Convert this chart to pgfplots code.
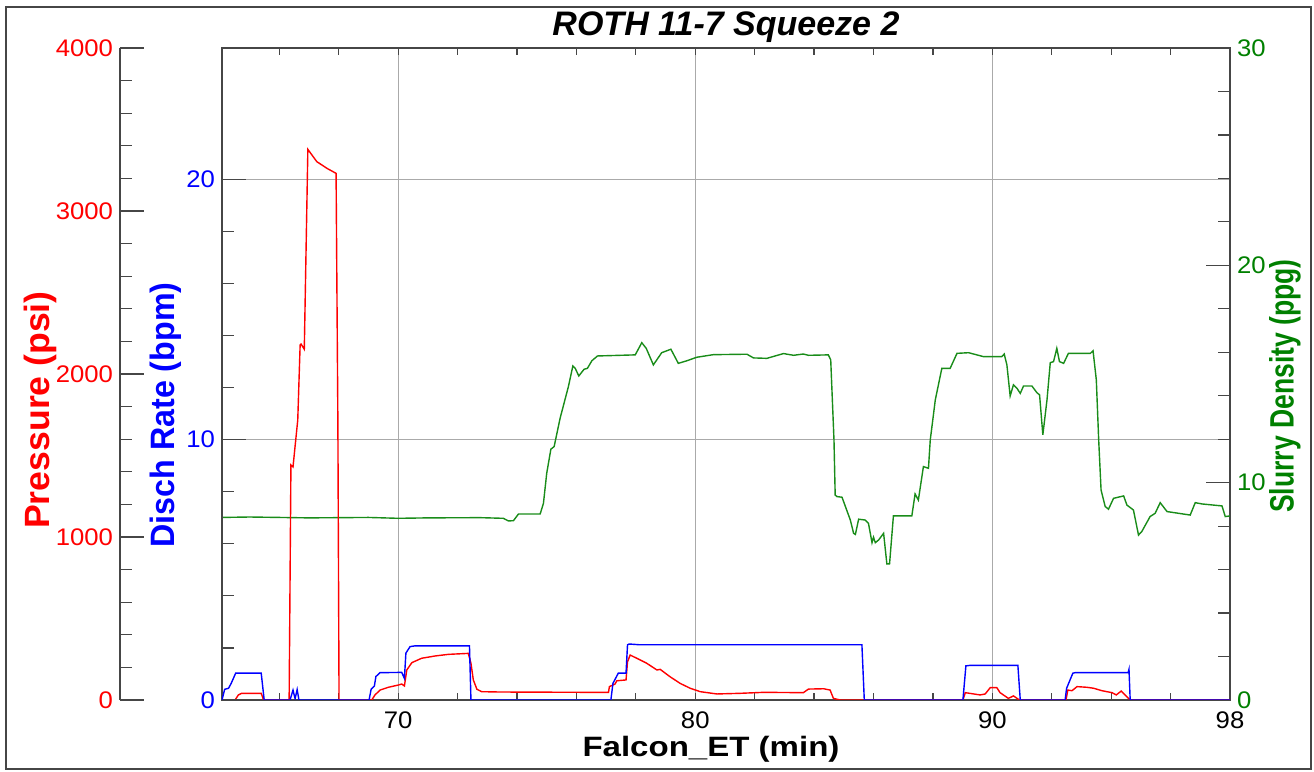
\documentclass[border=0pt]{standalone}
\usepackage{pgfplots}
\usepackage{pgfplotstable}
\pgfplotsset{compat=1.18}
\usepackage{fontspec}
\setmainfont{Liberation Sans}
\definecolor{pred}{RGB}{255,0,0}
\definecolor{rblue}{RGB}{0,0,255}
\definecolor{dgreen}{RGB}{0,128,0}
\definecolor{tgreen}{RGB}{25,140,25}
\definecolor{axgray}{RGB}{70,70,70}
\definecolor{gridgray}{RGB}{170,170,170}

\pgfplotstableread{
x y
64.07 0
64.16 0.41
64.29 0.45
64.38 0.64
64.53 1.03
65.39 1.03
65.49 0
66.36 0
66.46 0.38
66.53 0.05
66.60 0.40
66.66 0
69.02 0
69.09 0.41
69.20 0.54
69.25 0.90
69.39 1.05
70.12 1.06
70.21 0.83
70.26 1.80
70.40 2.05
70.57 2.08
72.40 2.08
72.45 0
77.16 0
77.23 0.64
77.41 1.03
77.67 1.03
77.72 2.12
77.78 2.15
78.14 2.12
85.61 2.12
85.69 0
89.01 0
89.11 1.31
89.25 1.33
90.86 1.33
90.94 0
92.45 0
92.50 0.45
92.71 1.03
92.79 1.05
94.57 1.05
94.60 1.18
94.64 0
98.00 0
}\ratetable

\pgfplotstableread{
x y
64.07 0
64.51 0
64.62 31
64.73 41
65.39 41
65.47 0
66.33 0
66.39 1442
66.46 1430
66.62 1718
66.70 2178
66.73 2184
66.84 2152
66.96 3378
67.26 3303
67.60 3262
67.91 3231
67.97 1718
68.01 0
69.11 0
69.22 31
69.39 61
69.67 78
70.01 92
70.12 98
70.21 86
70.29 184
70.46 229
70.79 256
71.24 270
71.69 280
72.36 286
72.45 225
72.53 123
72.65 66
72.81 51
73.43 49
76.46 47
77.08 47
77.11 82
77.30 98
77.36 118
77.67 123
77.72 235
77.81 276
78.03 256
78.37 225
78.71 184
78.82 188
79.15 143
79.49 102
79.83 72
80.17 51
80.73 37
81.51 41
82.30 47
83.64 45
83.81 67
84.32 69
84.54 61
84.65 10
84.88 0
89.01 0
89.09 45
89.59 31
89.76 37
89.93 76
90.15 76
90.26 45
90.54 10
90.71 25
90.88 4
90.94 0
92.48 0
92.54 61
92.68 57
92.85 82
93.18 78
93.41 72
93.69 57
94.03 45
94.17 31
94.34 55
94.47 31
94.64 0
98.00 0
}\prestable

\pgfplotstableread{
x y
64.07 8.40
65.00 8.42
67.00 8.38
69.00 8.40
70.00 8.36
71.00 8.38
72.76 8.39
73.54 8.36
73.71 8.24
73.88 8.25
74.05 8.56
74.78 8.56
74.89 9.05
75.00 10.43
75.14 11.54
75.25 11.66
75.45 12.96
75.73 14.42
75.88 15.37
75.96 15.26
76.08 14.91
76.26 15.22
76.37 15.26
76.52 15.61
76.71 15.83
77.98 15.88
78.20 16.44
78.35 16.18
78.59 15.42
78.87 15.98
79.18 16.14
79.43 15.49
79.72 15.61
80.05 15.77
80.61 15.89
81.74 15.91
81.96 15.74
82.41 15.72
82.97 15.94
83.31 15.86
83.64 15.92
83.81 15.86
84.48 15.88
84.56 15.65
84.67 11.96
84.71 9.43
84.77 9.36
84.94 9.33
85.22 8.28
85.33 7.67
85.39 7.62
85.50 8.32
85.72 8.28
85.83 8.13
85.95 7.24
86.00 7.49
86.06 7.24
86.17 7.36
86.34 7.67
86.45 6.26
86.54 6.26
86.67 8.47
87.29 8.47
87.40 9.48
87.51 9.20
87.68 10.74
87.85 10.66
87.91 11.96
88.08 13.81
88.30 15.26
88.58 15.26
88.81 15.95
89.20 15.98
89.70 15.80
90.32 15.80
90.40 15.92
90.49 15.42
90.60 13.99
90.71 14.50
90.83 14.34
90.94 14.11
91.05 14.45
91.33 14.45
91.50 14.14
91.59 14.04
91.70 12.20
91.84 13.81
91.95 15.52
92.06 15.57
92.17 16.18
92.26 15.57
92.40 15.49
92.56 15.95
93.30 15.95
93.39 16.07
93.50 14.73
93.58 11.96
93.66 9.66
93.80 8.90
93.91 8.78
94.08 9.28
94.42 9.39
94.53 8.97
94.75 8.74
94.92 7.59
95.03 7.75
95.31 8.44
95.48 8.59
95.65 9.08
95.88 8.67
96.66 8.51
96.83 9.08
97.06 9.02
97.73 8.93
97.84 8.44
98.00 8.47
}\denstable

\pgfplotsset{
  base/.style={
    scale only axis, width=504pt, height=326pt,
    xmin=64.07, xmax=98,
    axis line style={axgray, line width=0.7pt},
    tick style={axgray, line width=0.6pt},
    major tick length=12pt, minor tick length=6pt,
    tick align=inside,
    /pgf/number format/assume math mode=true,
    /pgf/number format/set thousands separator={},
    scaled ticks=false,
    ticklabel style={font=\fontsize{12}{14}\selectfont},
    yticklabel={\scalebox{1.07}[1]{\pgfmathprintnumber{\tick}}},
    xticklabel={\scalebox{1.07}[1]{\pgfmathprintnumber{\tick}}},
    clip=true,
  }
}

\begin{document}
\begin{tikzpicture}
\path[use as bounding box] (0,0) rectangle (657pt,386pt);
\draw[axgray, line width=0.8pt] (3pt,1.5pt) rectangle (655.5pt,382.5pt);

% grid and x axis
\begin{axis}[base, at={(111pt,36pt)}, anchor=south west,
  ymin=0, ymax=25.04,
  xtick={70,80,90,98}, minor xtick={66,68,72,74,76,78,82,84,86,88,92,94,96},
  xtick pos=both,
  ytick={10,20}, yticklabels={}, ytick style={draw=none},
  major tick length=3.5pt, minor tick length=3.5pt,
  grid=major, major grid style={gridgray, line width=0.5pt},
  xticklabel style={black, yshift=-2.5pt},
]
\addplot[draw=none] coordinates {(70,0)};
\end{axis}

% density (green)
\begin{axis}[base, at={(111pt,36pt)}, anchor=south west,
  ymin=0, ymax=30,
  axis x line=none, axis y line*=right,
  ytick={0,10,20,30}, minor y tick num=4,
  yticklabel style={dgreen},
]
\addplot[tgreen, line width=0.7pt] table {\denstable};
\end{axis}

% pressure (red) data
\begin{axis}[base, at={(111pt,36pt)}, anchor=south west,
  ymin=0, ymax=4000, hide axis,
]
\addplot[pred, line width=0.7pt] table {\prestable};
\end{axis}

% rate (blue)
\begin{axis}[base, at={(111pt,36pt)}, anchor=south west,
  ymin=0, ymax=25.04,
  axis x line=none, axis y line*=left,
  ytick={0,10,20}, minor y tick num=4,
  yticklabel style={rblue},
]
\addplot[rblue, line width=0.7pt] table {\ratetable};
\end{axis}

% pressure scale
\begin{axis}[base, at={(60pt,36pt)}, anchor=south west,
  ymin=0, ymax=4000,
  axis x line=none, axis y line*=left,
  ytick={0,1000,2000,3000,4000}, minor y tick num=4,
  yticklabel style={pred},
]
\addplot[draw=none] coordinates {(70,0)};
\end{axis}

\node[font=\bfseries\itshape\fontsize{17}{20}\selectfont] at (363pt,372.5pt) {ROTH 11-7 Squeeze 2};
\node[font=\bfseries\fontsize{14}{16}\selectfont] at (355.5pt,11.5pt) {\scalebox{1.18}[1]{Falcon\_ET (min)}};
\node[font=\bfseries\fontsize{13}{15}\selectfont, text=pred, rotate=90] at (20pt,181pt) {\scalebox{1.37}[1.35]{Pressure (psi)}};
\node[font=\bfseries\fontsize{13}{15}\selectfont, text=rblue, rotate=90] at (83pt,178.5pt) {\scalebox{1.24}[1.3]{Disch Rate (bpm)}};
\node[font=\bfseries\fontsize{13}{15}\selectfont, text=dgreen, rotate=90] at (642.5pt,193pt) {\scalebox{1.02}[1.3]{Slurry Density (ppg)}};
\end{tikzpicture}
\end{document}
